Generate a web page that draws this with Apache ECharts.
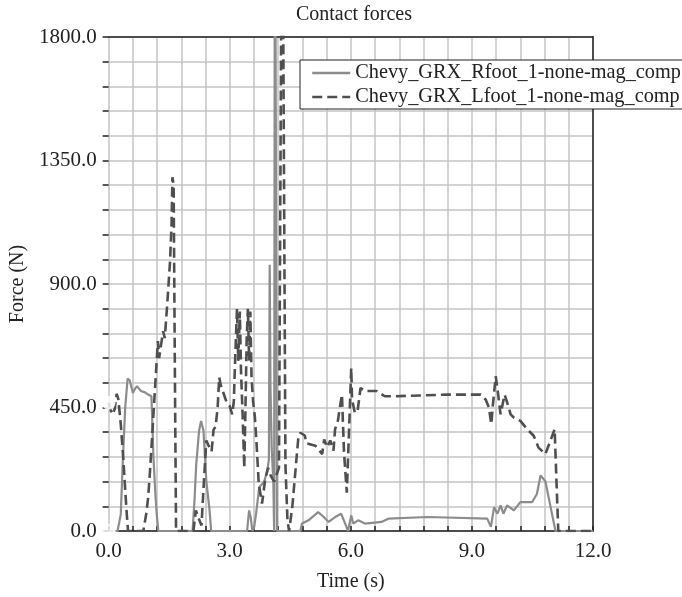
<!DOCTYPE html>
<html>
<head>
<meta charset="utf-8">
<script src="https://cdn.jsdelivr.net/npm/echarts@6/dist/echarts.min.js"></script>
<style>html,body{margin:0;padding:0;background:#fff}#c{width:682px;height:597px}</style>
</head>
<body>
<div id="c"></div>
<script>
const titleText = 'Contact forces';
const xName = 'Time (s)';
const yName = 'Force (N)';
const rfootName = 'Chevy_GRX_Rfoot_1-none-mag_comp';
const lfootName = 'Chevy_GRX_Lfoot_1-none-mag_comp';

// [time (s), force (N)]
const rfoot = [
  [0,0],[0.22,0],[0.3,60],[0.35,250],[0.41,450],[0.47,555],[0.52,550],[0.6,503],[0.66,520],[0.7,528],
  [0.8,510],[0.9,505],[0.98,497],[1.06,491],[1.11,268],[1.16,130],[1.19,63],[1.23,0],
  [2.08,0],[2.13,120],[2.17,244],[2.24,365],[2.29,401],[2.35,365],[2.42,183],[2.5,75],[2.54,0],
  [3.43,0],[3.48,75],[3.52,50],[3.56,0],[3.6,10],[3.65,60],[3.73,159],[3.8,170],[3.86,183],[3.93,220],
  [3.97,260],[3.99,970],[4.01,520],[4.04,300],[4.08,180],[4.1,0],[4.12,2600],[4.15,2600],[4.17,0],
  [4.75,0],[4.79,27],[4.95,39],[5.19,69],[5.33,51],[5.45,33],[5.61,51],[5.76,63],[5.86,27],[5.93,0],
  [6.01,57],[6.06,27],[6.18,39],[6.35,27],[6.76,33],[6.93,45],[7.9,51],[9.38,45],[9.47,15],[9.55,87],
  [9.63,63],[9.71,93],[9.78,63],[9.87,93],[10.04,75],[10.2,105],[10.49,105],[10.61,135],[10.7,202],
  [10.82,181],[10.95,87],[11.07,0],[12,0]
];
const lfoot = [
  [0,467],[0.05,440],[0.1,425],[0.15,445],[0.2,500],[0.24,480],[0.3,390],[0.36,270],[0.41,150],[0.45,60],
  [0.48,0],[0.86,0],[0.93,62],[0.98,123],[1.03,230],[1.08,350],[1.12,450],[1.16,547],[1.22,692],[1.25,630],
  [1.3,680],[1.35,728],[1.39,703],[1.45,823],[1.52,980],[1.56,1125],[1.58,1289],[1.61,1260],[1.64,600],[1.67,0],
  [2.1,0],[2.16,75],[2.22,50],[2.3,20],[2.36,180],[2.42,330],[2.48,310],[2.55,290],[2.6,370],[2.65,380],
  [2.7,450],[2.74,560],[2.78,530],[2.85,500],[2.92,470],[3.0,455],[3.06,425],[3.1,470],[3.14,650],[3.18,810],
  [3.21,620],[3.25,800],[3.28,580],[3.32,420],[3.36,230],[3.39,450],[3.42,700],[3.45,810],[3.48,620],[3.51,800],
  [3.54,560],[3.58,470],[3.62,420],[3.66,330],[3.72,170],[3.8,100],[3.88,190],[3.95,230],[4.02,200],[4.1,180],
  [4.22,230],[4.3,2600],[4.34,2600],[4.38,240],[4.43,40],[4.47,0],[4.55,87],[4.65,257],[4.7,340],[4.75,358],
  [4.86,348],[4.9,320],[5.12,311],[5.2,298],[5.29,280],[5.34,334],[5.41,305],[5.49,330],[5.57,293],[5.61,371],
  [5.68,402],[5.74,461],[5.78,497],[5.83,290],[5.9,140],[5.94,300],[6.01,594],[6.03,480],[6.1,430],[6.17,440],
  [6.24,521],[6.35,510],[6.64,510],[6.84,491],[7.1,491],[8.4,497],[9.22,497],[9.34,479],[9.42,450],[9.48,389],
  [9.52,460],[9.59,564],[9.64,510],[9.71,425],[9.81,497],[9.87,470],[9.96,425],[10.04,413],[10.2,401],[10.37,371],
  [10.53,347],[10.65,304],[10.82,280],[10.95,331],[11.05,371],[11.1,160],[11.14,0],[12,0]
];
const xLabelStep = 3;
const yLabelStep = 450;

const font = 'Liberation Serif';
const dark = '#222';
const gridCol = '#c4c4c4';

function isMult(v, s) { return Math.abs(v / s - Math.round(v / s)) < 1e-6; }

const chart = echarts.init(document.getElementById('c'));
chart.setOption({
  animation: false,
  backgroundColor: '#fff',
  title: {
    text: titleText, left: 349, top: 0, textAlign: 'center',
    textStyle: { fontFamily: font, fontSize: 20, fontWeight: 'normal', color: dark }
  },
  grid: { left: 105, right: 89, top: 37, bottom: 63 },
  legend: {
    orient: 'vertical', left: 300, top: 60,
    data: [rfootName, lfootName],
    itemWidth: 38, itemHeight: 14, itemGap: 4,
    padding: [3, 10, 2, 11],
    backgroundColor: '#fff', borderColor: dark, borderWidth: 1,
    lineStyle: { width: 2.5 },
    itemStyle: { opacity: 0 },
    textStyle: { fontFamily: font, fontSize: 20.3, color: dark, lineHeight: 20 }
  },
  xAxis: [{
    type: 'value', min: 0, max: 12, interval: 0.6,
    name: xName, nameLocation: 'middle', nameGap: 41,
    nameTextStyle: { fontFamily: font, fontSize: 20, color: dark },
    axisLine: { show: true, onZero: false, lineStyle: { color: dark, width: 1.5 } },
    axisTick: { show: true, inside: true, length: 5, lineStyle: { color: dark, width: 1.5 } },
    axisLabel: {
      fontFamily: font, fontSize: 21, color: dark, margin: 10, showMinLabel: true, showMaxLabel: true,
      formatter: v => isMult(v, xLabelStep) ? v.toFixed(1) : ''
    },
    splitLine: { show: true, lineStyle: { color: gridCol, width: 1.5 } }
  }, {
    type: 'value', min: 0, max: 12, position: 'top',
    axisLine: { show: true, onZero: false, lineStyle: { color: dark, width: 1.5 } },
    axisTick: { show: false }, axisLabel: { show: false }, splitLine: { show: false }
  }],
  yAxis: [{
    type: 'value', min: 0, max: 1800, interval: 90,
    name: yName, nameLocation: 'middle', nameGap: 77, nameRotate: 90,
    nameTextStyle: { fontFamily: font, fontSize: 20, color: dark },
    axisLine: { show: false },
    axisTick: { show: true, inside: false, length: 6, lineStyle: { color: dark, width: 1.5 } },
    axisLabel: {
      fontFamily: font, fontSize: 21, color: dark, margin: 12,
      formatter: v => isMult(v, yLabelStep) ? v.toFixed(1) : ''
    },
    splitLine: { show: true, lineStyle: { color: gridCol, width: 1.5 } }
  }, {
    type: 'value', min: 0, max: 1800, position: 'right',
    axisLine: { show: true, onZero: false, lineStyle: { color: dark, width: 1.5 } },
    axisTick: { show: false }, axisLabel: { show: false }, splitLine: { show: false }
  }],
  series: [{
    name: rfootName, type: 'line', data: rfoot, symbol: 'none', clip: true,
    lineStyle: { color: '#8c8c8c', width: 2.2 }, itemStyle: { color: '#8c8c8c' }
  }, {
    name: lfootName, type: 'line', data: lfoot, symbol: 'none', clip: true,
    lineStyle: { color: '#4f4f4f', width: 2.6, type: [10, 5] }, itemStyle: { color: '#4f4f4f' }
  }, {
    name: 'start', type: 'scatter', data: [rfoot[0], lfoot[0]],
    symbol: 'emptyCircle', symbolSize: 12,
    itemStyle: { color: '#fff', borderColor: '#777', borderWidth: 1.5 }, z: 5
  }]
});
</script>
</body>
</html>
